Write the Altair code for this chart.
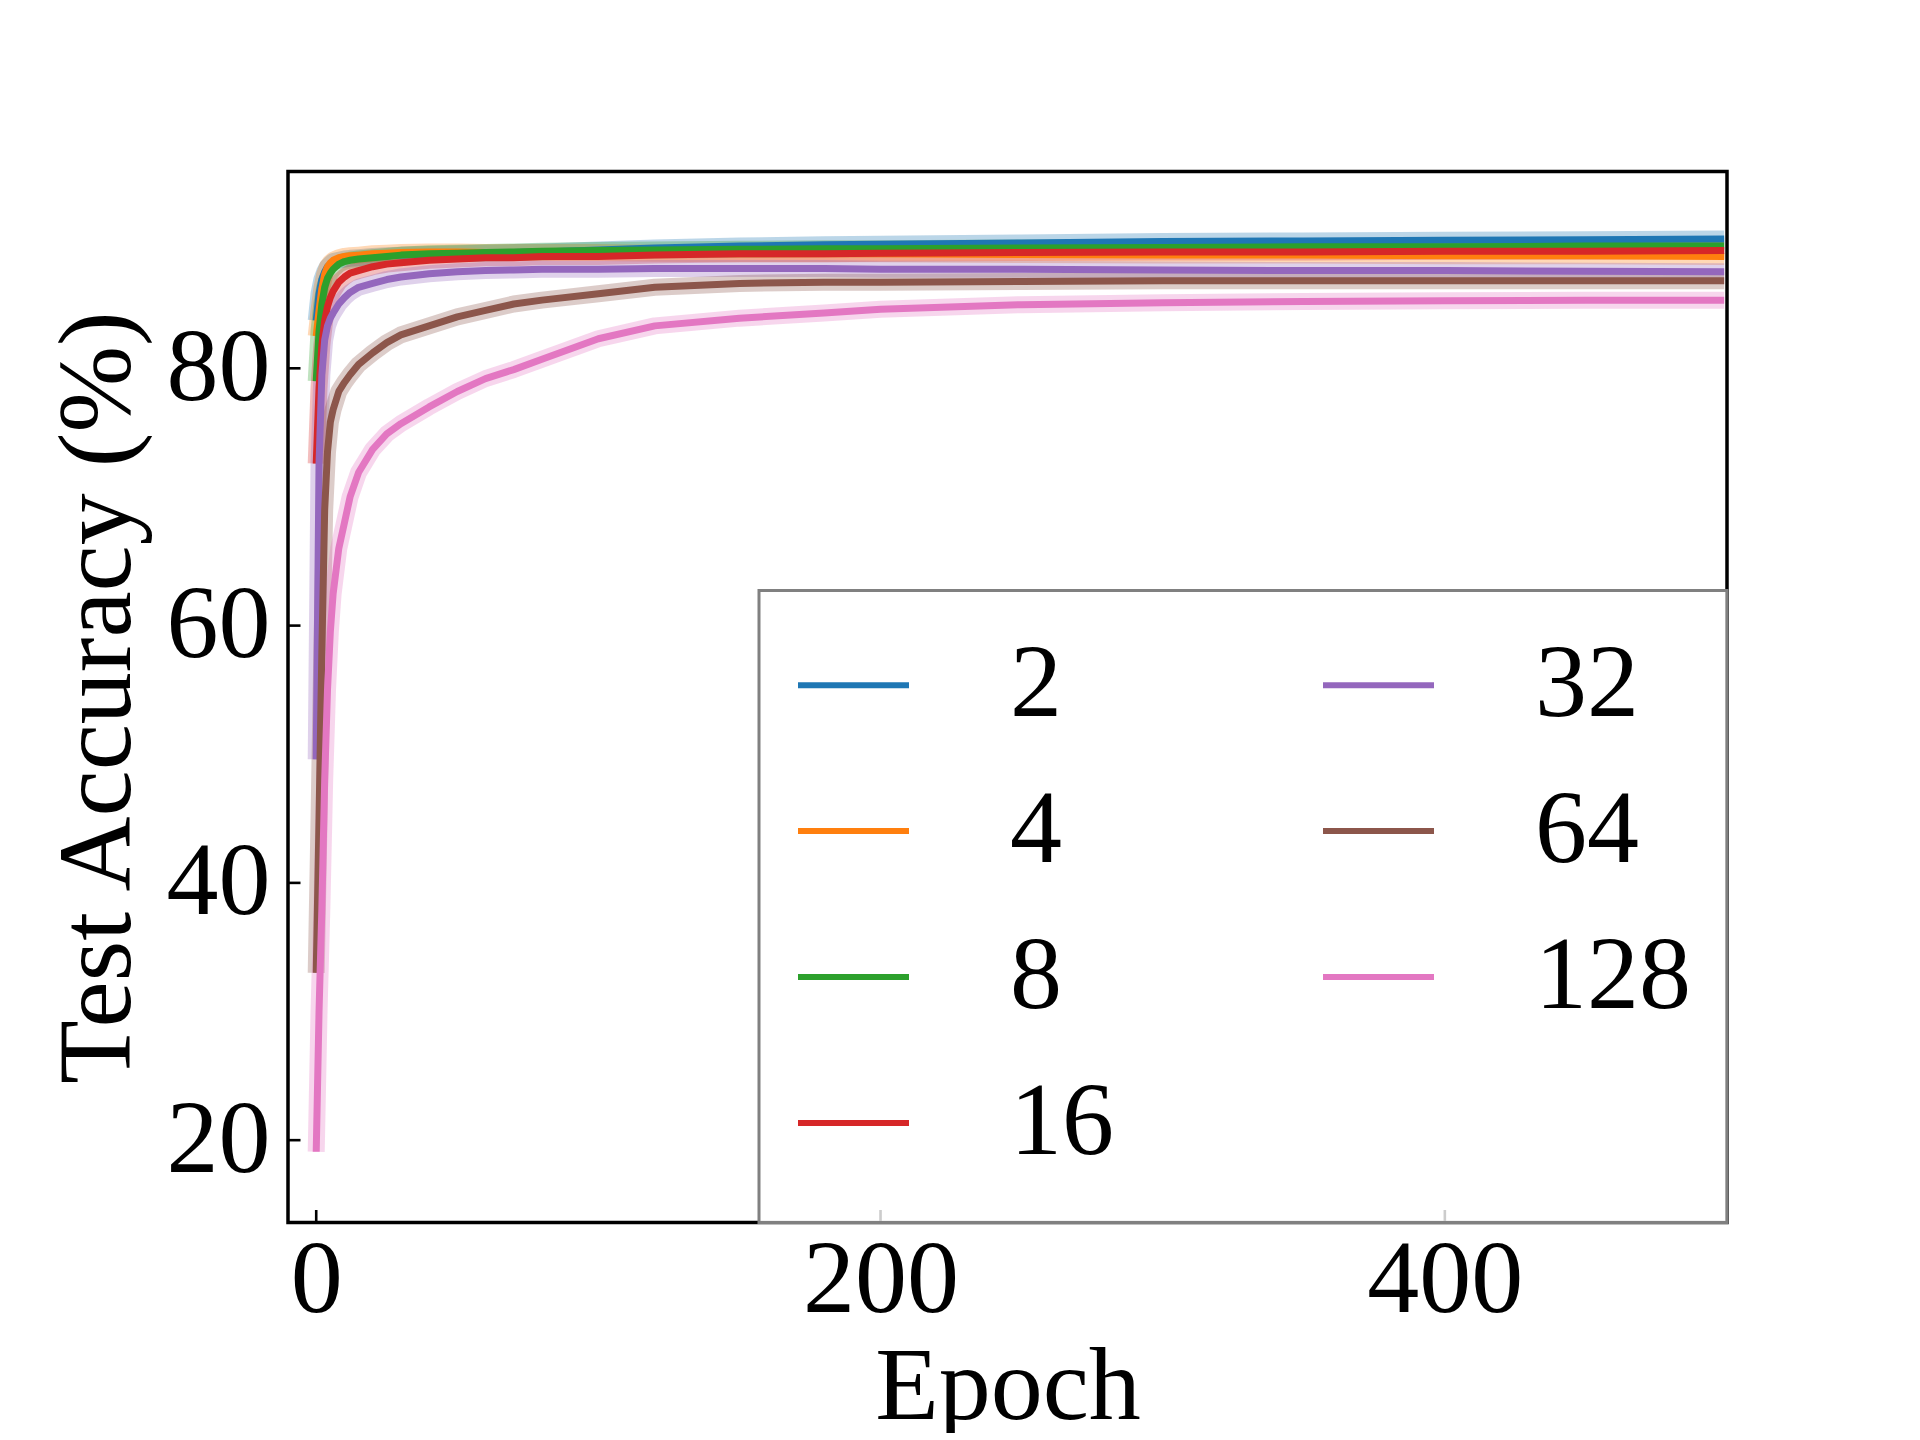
import altair as alt
import pandas as pd

# ---- data ----
epochs = [0, 1, 2, 3, 4, 5, 6, 8, 10, 12, 15, 20, 25, 30, 40, 50, 60, 70, 80,
          100, 120, 150, 180, 200, 250, 300, 350, 400, 450, 499]

acc_2 = [83.7, 85.8, 86.9, 87.5, 87.9, 88.1, 88.3, 88.4, 88.5, 88.55, 88.6, 88.7,
         88.75, 88.8, 88.85, 88.9, 88.95, 89.0, 89.05, 89.2, 89.35, 89.5, 89.6,
         89.65, 89.75, 89.85, 89.9, 89.95, 90.0, 90.05]
acc_4 = [82.5, 84.5, 86.2, 87.3, 87.9, 88.2, 88.4, 88.6, 88.7, 88.75, 88.8, 88.9,
         88.95, 89.0, 89.05, 89.05, 89.0, 89.0, 89.0, 89.0, 88.95, 88.9, 88.9,
         88.9, 88.85, 88.8, 88.8, 88.75, 88.75, 88.7]
acc_8 = [79.0, 82.9, 85.0, 86.3, 87.0, 87.4, 87.7, 88.1, 88.3, 88.4, 88.5, 88.6,
         88.7, 88.8, 88.9, 88.95, 89.0, 89.05, 89.1, 89.15, 89.2, 89.25, 89.3,
         89.3, 89.35, 89.4, 89.45, 89.45, 89.5, 89.5]
acc_16 = [72.6, 78.5, 81.8, 83.7, 84.8, 85.5, 86.0, 86.7, 87.1, 87.4, 87.6, 87.9,
          88.1, 88.2, 88.4, 88.5, 88.6, 88.6, 88.7, 88.7, 88.8, 88.9, 88.9,
          88.95, 89.0, 89.05, 89.05, 89.1, 89.1, 89.15]
acc_32 = [49.6, 72.6, 79.5, 82.2, 83.3, 83.9, 84.3, 85.0, 85.5, 85.9, 86.3, 86.6,
          86.9, 87.1, 87.35, 87.5, 87.6, 87.65, 87.7, 87.7, 87.75, 87.75, 87.75,
          87.7, 87.7, 87.65, 87.6, 87.6, 87.55, 87.5]
acc_64 = [33.0, 45.0, 58.0, 69.0, 73.5, 75.8, 76.8, 78.2, 78.9, 79.5, 80.3, 81.2,
          82.0, 82.6, 83.3, 84.0, 84.5, 85.0, 85.3, 85.8, 86.3, 86.6, 86.7,
          86.7, 86.75, 86.8, 86.8, 86.8, 86.8, 86.8]
acc_128 = [19.1, 30.0, 38.0, 48.0, 55.0, 59.5, 62.5, 66.0, 68.0, 70.0, 71.9, 73.7,
           74.9, 75.7, 77.0, 78.2, 79.2, 79.9, 80.7, 82.3, 83.3, 83.9, 84.3,
           84.6, 84.95, 85.1, 85.2, 85.25, 85.3, 85.3]

series_labels = ["2", "4", "8", "16", "32", "64", "128"]
series_values = [acc_2, acc_4, acc_8, acc_16, acc_32, acc_64, acc_128]
series_colors = ["#1f77b4", "#ff7f0e", "#2ca02c", "#d62728", "#9467bd", "#8c564b", "#e377c2"]

x_tick_values = [0, 200, 400]
y_tick_values = [20, 40, 60, 80]

# ---- tables ----
rows = []
for k, (lab, vals) in enumerate(zip(series_labels, series_values)):
    for e, v in zip(epochs, vals):
        rows.append({"epoch": e, "acc": v, "series": lab, "order": k})
df = pd.DataFrame(rows)

W, H = 1439, 1051
FONT = "Liberation Serif"
FS = 104

xs = alt.Scale(domain=[-10, 500], nice=False, zero=False)
ys = alt.Scale(domain=[13.6, 95.3], nice=False, zero=False)

X_TITLE = "Epoch"
Y_TITLE = "Test Accuracy (%)"

color_enc = alt.Color(
    "series:N",
    scale=alt.Scale(domain=series_labels, range=series_colors),
    sort=series_labels,
    legend=alt.Legend(
        title=" ",
        titleOrient="bottom",
        titleFontSize=2,
        titlePadding=9,
        orient="bottom-right",
        offset=0,
        columns=2,
        columnPadding=197,
        rowPadding=35,
        padding=36,
        symbolType="stroke",
        symbolSize=12321,
        symbolStrokeWidth=6,
        symbolOpacity=1,
        labelFont=FONT,
        labelFontSize=FS,
        labelOffset=98,
        labelLimit=500,
        strokeColor="#808080",
        fillColor="rgba(255,255,255,0.8)",
        cornerRadius=0,
    ),
)

x_enc = alt.X("epoch:Q", scale=xs, title=X_TITLE,
              axis=alt.Axis(values=x_tick_values, format="d"))
y_enc = alt.Y("acc:Q", scale=ys, title=Y_TITLE,
              axis=alt.Axis(values=y_tick_values, format="d"))

base = alt.Chart(df).encode(x=x_enc, y=y_enc, color=color_enc,
                            order=alt.Order("order:Q"))

halo = base.mark_line(strokeWidth=17, opacity=0.3, strokeJoin="round")
main = base.mark_line(strokeWidth=7, strokeJoin="round")

yticks = alt.Chart(pd.DataFrame({"v": y_tick_values})).mark_rule(
    color="black", strokeWidth=2.6
).encode(
    y=alt.Y("v:Q", scale=ys, title=Y_TITLE),
    x=alt.value(0),
    x2=alt.value(12.5),
)
xticks = alt.Chart(pd.DataFrame({"v": x_tick_values})).mark_rule(
    color="black", strokeWidth=2.6
).encode(
    x=alt.X("v:Q", scale=xs, title=X_TITLE),
    y=alt.value(H),
    y2=alt.value(H - 12.5),
)

chart = alt.layer(halo, main, yticks, xticks).properties(
    width=W,
    height=H,
    autosize=alt.AutoSizeParams(type="none"),
    padding={"left": 280, "top": 163.5, "right": 150, "bottom": 210},
).configure_view(
    stroke="black", strokeWidth=3.5
).configure_axis(
    labelFont=FONT, labelFontSize=FS, labelColor="black",
    titleFont=FONT, titleFontSize=FS, titleFontWeight="normal", titleColor="black",
    ticks=False, tickSize=0, domain=False, grid=False,
).configure_axisX(
    labelBaseline="alphabetic", labelPadding=88.7, labelAlign="center",
    titleBaseline="alphabetic", titleAlign="center", titleX=W / 2, titleY=196,
    titleAngle=0,
).configure_axisY(
    labelAlign="right", labelBaseline="middle", labelPadding=18,
    titleAngle=270, titleBaseline="alphabetic", titleAlign="center",
    titleX=-158.5, titleY=H / 2,
).configure_legend(
    strokeWidth=3
)

chart.save("out.html", embed_options={"renderer": "svg", "actions": False})
